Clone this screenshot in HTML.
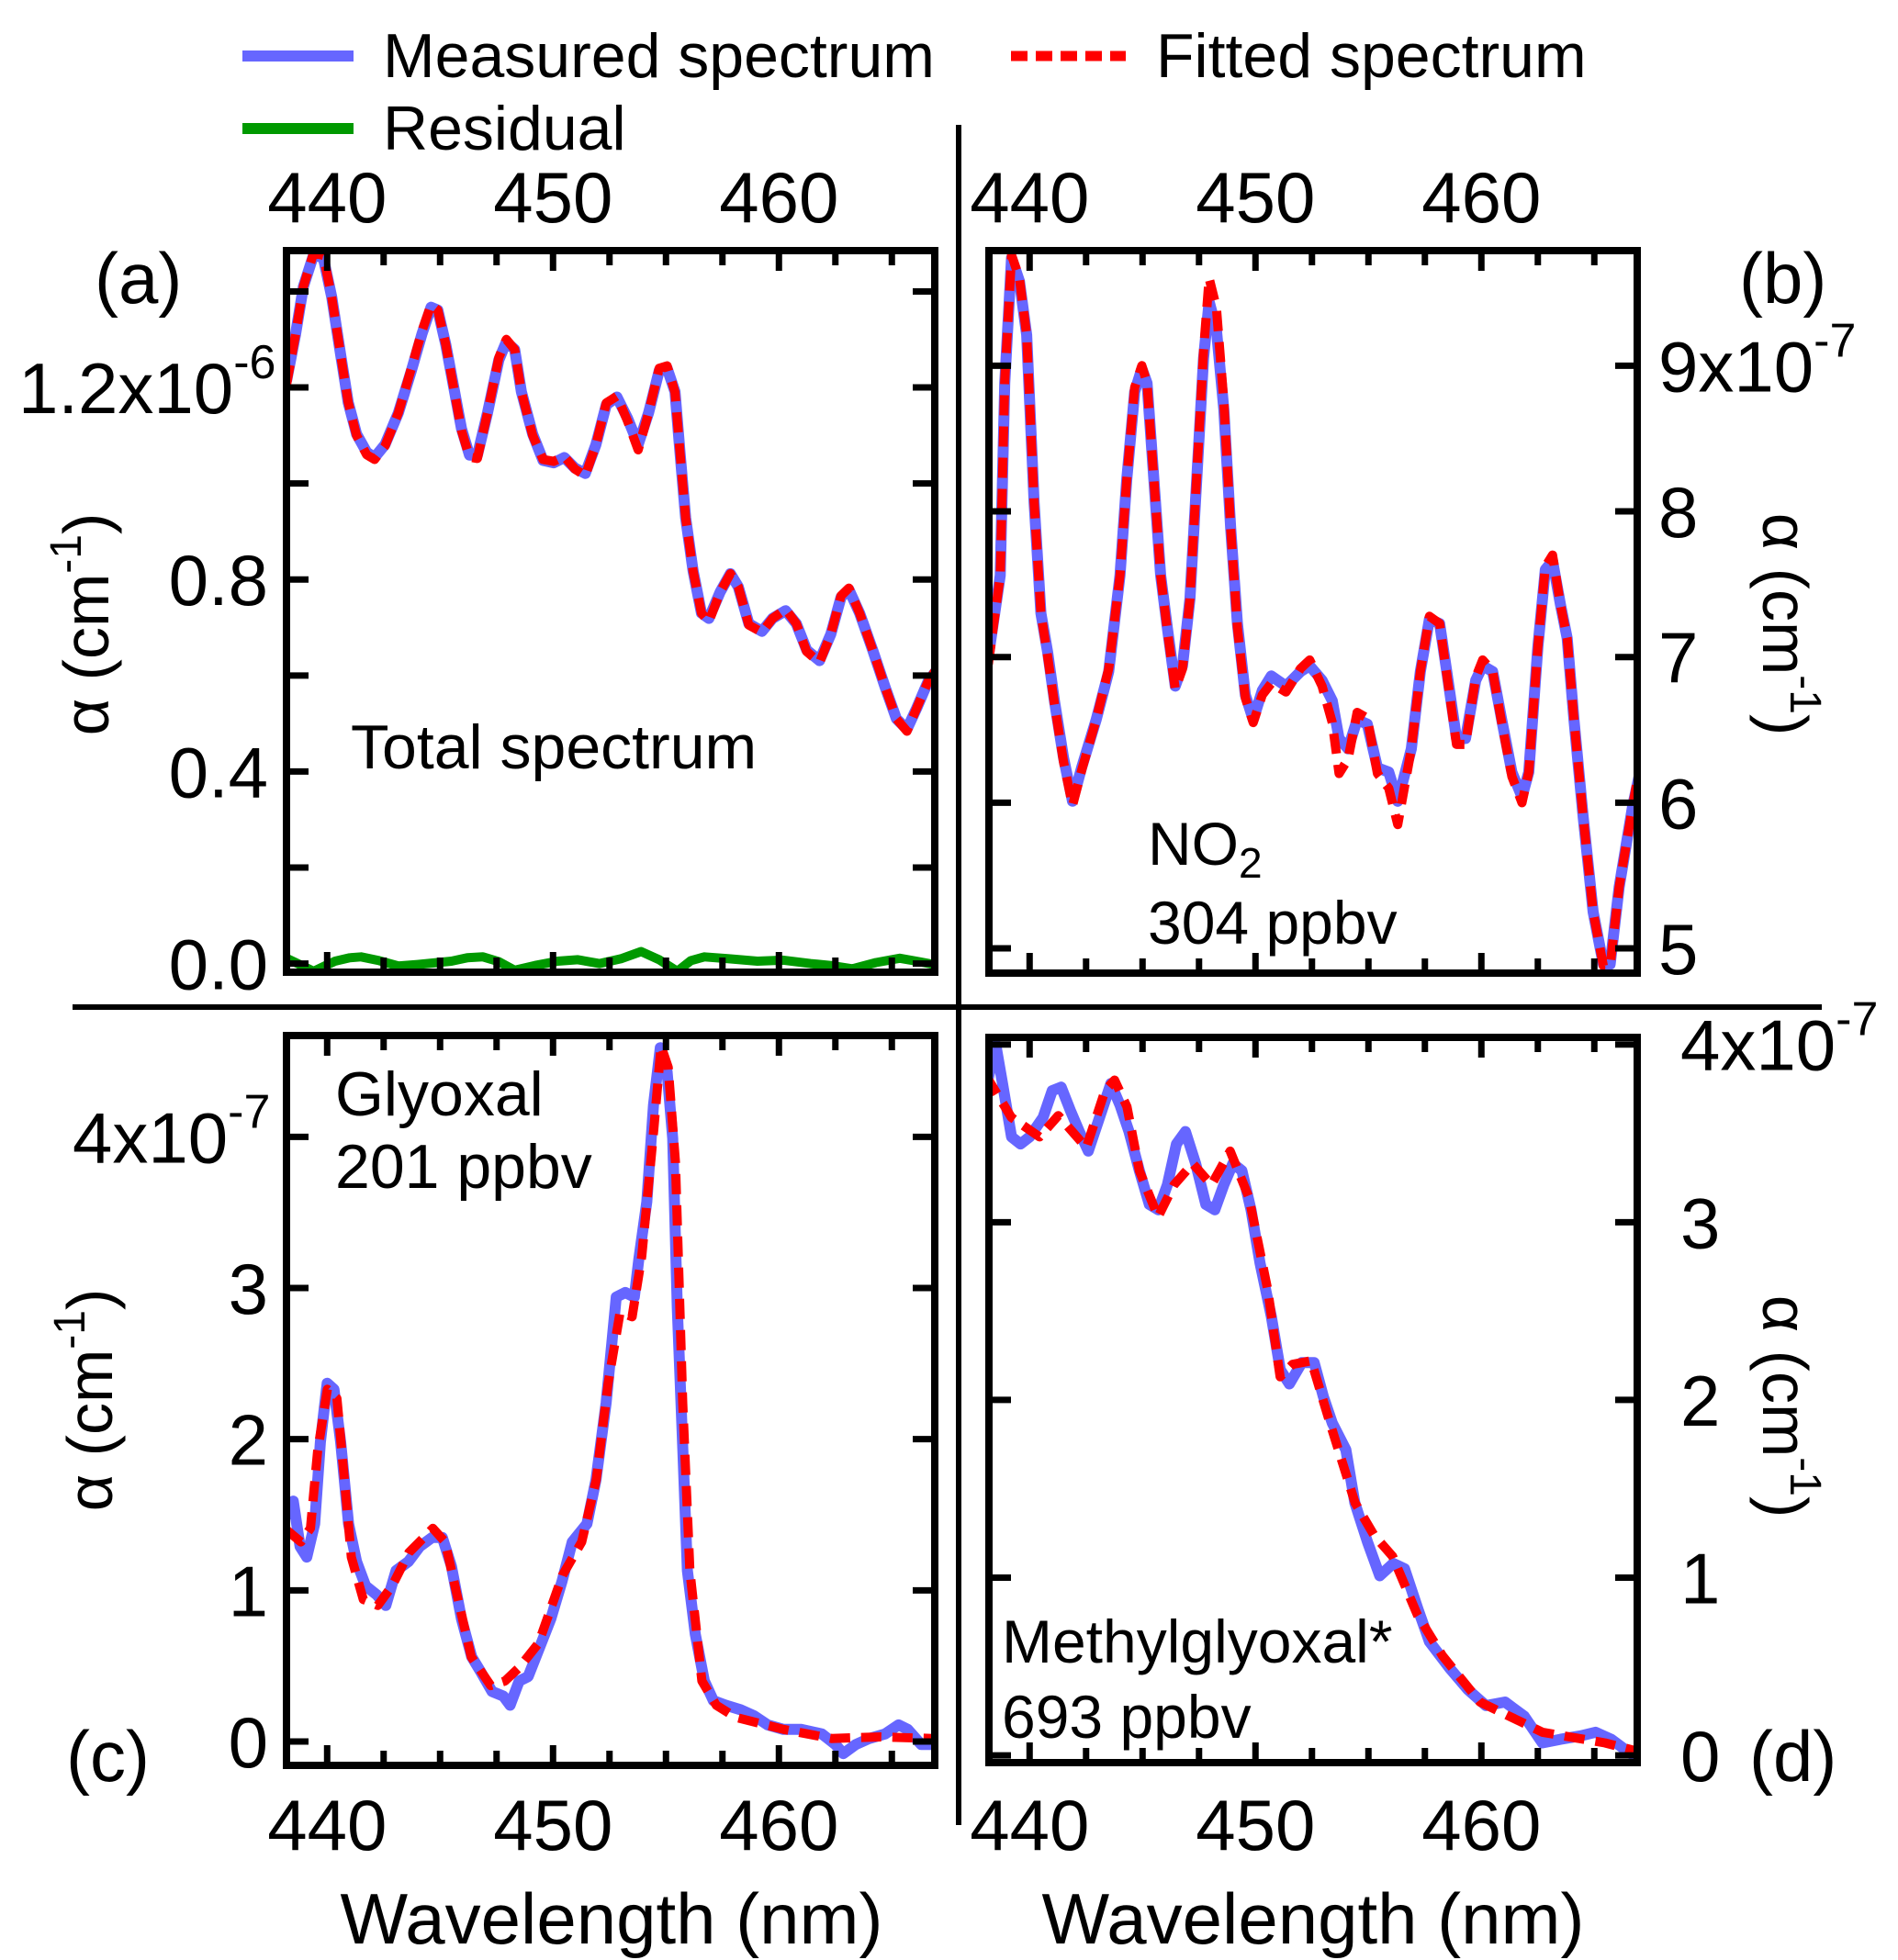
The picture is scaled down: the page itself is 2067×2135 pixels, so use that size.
<!DOCTYPE html>
<html><head><meta charset="utf-8"><style>
html,body{margin:0;padding:0;background:#fff}
svg{display:block}
text{font-family:"Liberation Sans",Arial,sans-serif;fill:#000}
</style></head><body>
<svg id="fig" xmlns="http://www.w3.org/2000/svg" width="2067" height="2135" viewBox="0 0 2067 2135">
<rect width="2067" height="2135" fill="#fff"/>
<g id="legend">
 <line x1="264" y1="61" x2="385" y2="61" stroke="#6666ff" stroke-width="12"/>
 <text x="417" y="84" font-size="68">Measured spectrum</text>
 <line x1="1101" y1="61" x2="1226" y2="61" stroke="#ff0000" stroke-width="11" stroke-dasharray="18,9"/>
 <text x="1259" y="84" font-size="68">Fitted spectrum</text>
 <line x1="264" y1="140" x2="385" y2="140" stroke="#009900" stroke-width="12"/>
 <text x="417" y="163" font-size="68">Residual</text>
</g>
<line x1="79" y1="1097" x2="1984" y2="1097" stroke="#000" stroke-width="6"/>
<line x1="1044" y1="136" x2="1044" y2="1988" stroke="#000" stroke-width="6"/>
<g id="plots"></g>
<g id="labels">
 <text x="103" y="330" font-size="78">(a)</text>
 <text x="1894" y="330" font-size="78">(b)</text>
 <text x="72" y="1940" font-size="78">(c)</text>
 <text x="1905" y="1940" font-size="78">(d)</text>
 <text x="382" y="837" font-size="68">Total spectrum</text>
 <text x="1250" y="942" font-size="66">NO<tspan font-size="46" dy="14">2</tspan></text>
 <text x="1250" y="1028" font-size="66">304 ppbv</text>
 <text x="365" y="1215" font-size="68">Glyoxal</text>
 <text x="365" y="1294" font-size="68">201 ppbv</text>
 <text x="1091" y="1811" font-size="66">Methylglyoxal*</text>
 <text x="1091" y="1893" font-size="66">693 ppbv</text>
 <text x="666" y="2117" font-size="78" text-anchor="middle">Wavelength (nm)</text>
 <text x="1430" y="2117" font-size="78" text-anchor="middle">Wavelength (nm)</text>
 <text transform="translate(118,680) rotate(-90)" font-size="70" text-anchor="middle">α (cm<tspan font-size="48" dy="-30">-1</tspan><tspan dy="30">)</tspan></text>
 <text transform="translate(122,1525) rotate(-90)" font-size="70" text-anchor="middle">α (cm<tspan font-size="48" dy="-30">-1</tspan><tspan dy="30">)</tspan></text>
 <text transform="translate(1920,680) rotate(90)" font-size="70" text-anchor="middle">α (cm<tspan font-size="48" dy="-30">-1</tspan><tspan dy="30">)</tspan></text>
 <text transform="translate(1920,1532) rotate(90)" font-size="70" text-anchor="middle">α (cm<tspan font-size="48" dy="-30">-1</tspan><tspan dy="30">)</tspan></text>
</g>
</svg>
<script>
// ---- data: wavelength (nm) and absorption values ----
const wlA = [438.2,438.6,438.95,439.4,439.83,440.2,440.6,440.93,441.3,441.75,442.1,442.56,443.15,443.73,444.2,444.6,444.9,445.25,445.6,445.95,446.3,446.65,447.1,447.6,447.93,448.3,448.6,449.1,449.56,450.03,450.5,450.97,451.43,451.9,452.36,452.83,453.3,453.77,454.23,454.7,455.05,455.4,455.63,455.87,456.2,456.57,456.9,457.4,457.85,458.2,458.67,459.25,459.72,460.3,460.77,461.23,461.8,462.3,462.75,463.1,463.57,464.15,464.7,465.2,465.67,466.1,466.6,466.95];
const measA = [1.213,1.31,1.41,1.476,1.47,1.389,1.268,1.169,1.103,1.065,1.054,1.081,1.147,1.235,1.312,1.367,1.361,1.29,1.202,1.114,1.059,1.059,1.147,1.257,1.295,1.279,1.191,1.103,1.048,1.043,1.054,1.032,1.021,1.081,1.164,1.18,1.136,1.081,1.147,1.235,1.24,1.191,1.059,0.928,0.818,0.73,0.719,0.774,0.812,0.785,0.708,0.692,0.719,0.735,0.708,0.653,0.631,0.686,0.763,0.779,0.73,0.653,0.576,0.51,0.488,0.532,0.587,0.609];
const fitA = [1.205,1.31,1.41,1.48,1.475,1.389,1.268,1.169,1.1,1.06,1.05,1.078,1.147,1.24,1.318,1.372,1.361,1.29,1.2,1.11,1.055,1.052,1.147,1.262,1.3,1.279,1.191,1.1,1.05,1.046,1.056,1.03,1.016,1.081,1.168,1.182,1.13,1.07,1.147,1.24,1.245,1.19,1.059,0.928,0.818,0.73,0.712,0.774,0.812,0.785,0.705,0.69,0.719,0.738,0.708,0.65,0.627,0.686,0.766,0.782,0.73,0.653,0.576,0.51,0.484,0.532,0.587,0.612];
const wlRes = [438.2,438.7,439.4,439.9,440.35,441.0,441.5,442.3,443.15,444.0,445.5,446.2,446.9,447.6,448.3,449.2,450.2,451.1,452.05,453.0,453.9,454.7,455.5,456.1,456.7,457.8,459.05,460.2,461.4,462.3,463.25,464.3,465.35,466.2,467];
const resA = [0.011,0.0,-0.016,-0.005,0.005,0.012,0.014,0.006,-0.005,-0.002,0.005,0.012,0.014,0.004,-0.014,-0.004,0.005,0.008,0,0.01,0.025,0.008,-0.016,0.006,0.014,0.01,0.005,0.007,0,-0.004,-0.011,0.002,0.011,0.004,-0.003];

const wlB = [438.17,438.7,438.9,439.2,439.55,439.87,440.2,440.5,440.8,441.1,441.5,441.9,442.3,442.95,443.5,444.0,444.3,444.65,444.97,445.2,445.5,445.8,446.1,446.45,446.77,447.1,447.4,447.7,447.95,448.27,448.6,448.9,449.2,449.55,449.9,450.3,450.7,451.35,451.99,452.4,452.95,453.4,453.7,454.1,454.5,454.95,455.4,455.9,456.3,456.9,457.3,457.7,458.15,458.47,458.9,459.3,459.75,460.06,460.5,460.9,461.35,461.8,462.1,462.5,462.83,463.15,463.5,463.8,464.1,464.5,464.95,465.4,465.7,466.1,466.7,466.98];
const measB = [7.0,7.56,8.88,9.74,9.58,9.21,8.06,7.3,7.03,6.7,6.31,6.01,6.24,6.57,6.9,7.56,8.22,8.82,8.98,8.88,8.22,7.56,7.2,6.8,6.94,7.4,8.22,9.05,9.44,9.25,8.7,7.89,7.23,6.74,6.57,6.77,6.87,6.8,6.9,6.94,6.84,6.7,6.44,6.37,6.57,6.54,6.24,6.21,6.01,6.37,6.9,7.26,7.23,6.9,6.44,6.44,6.84,6.94,6.9,6.57,6.21,6.04,6.21,7.07,7.6,7.66,7.36,7.13,6.57,5.91,5.25,4.89,4.89,5.42,5.98,6.18];
const fitB = [6.95,7.56,8.9,9.76,9.6,9.21,8.06,7.3,7.0,6.68,6.28,5.98,6.22,6.57,6.92,7.56,8.22,8.85,9.0,8.88,8.22,7.56,7.18,6.78,6.92,7.4,8.25,9.1,9.6,9.4,8.75,7.89,7.2,6.72,6.55,6.74,6.82,6.76,6.92,6.98,6.8,6.55,6.2,6.3,6.62,6.58,6.2,6.1,5.85,6.37,6.9,7.28,7.23,6.88,6.4,6.4,6.86,6.98,6.9,6.55,6.18,6.0,6.21,7.07,7.62,7.7,7.36,7.13,6.57,5.91,5.25,4.88,4.88,5.42,5.98,6.22];

const wlC = [438.2,438.5,438.8,439.1,439.45,439.7,440.0,440.3,440.6,440.95,441.3,441.7,442.2,442.6,443.05,443.6,444.1,444.65,445.1,445.5,445.95,446.4,446.8,447.3,447.8,448.1,448.5,448.9,449.4,449.9,450.4,450.85,451.5,451.9,452.35,452.8,453.2,453.6,453.8,454.15,454.45,454.75,455.05,455.3,455.5,455.75,455.95,456.3,456.7,457.1,457.65,458.3,458.9,459.5,460.2,461.0,461.9,462.5,462.85,463.4,464.0,464.7,465.3,465.7,466.3,466.8];
const measC = [1.48,1.59,1.29,1.22,1.44,1.98,2.37,2.33,1.98,1.44,1.19,1.03,0.97,0.9,1.13,1.19,1.29,1.35,1.35,1.16,0.81,0.56,0.46,0.33,0.3,0.24,0.4,0.43,0.62,0.81,1.06,1.32,1.44,1.73,2.24,2.94,2.97,2.94,3.19,3.57,4.21,4.59,4.43,3.99,2.87,1.92,1.13,0.71,0.4,0.27,0.24,0.21,0.17,0.11,0.08,0.08,0.05,-0.02,-0.08,-0.02,0.02,0.05,0.11,0.08,-0.02,-0.02];
const wlFitC = [438.2,438.84,439.26,439.58,440.01,440.43,440.75,441.07,441.6,442.24,442.88,443.62,444.68,445.22,445.75,446.38,447.24,447.87,448.51,449.36,450.42,451.27,451.91,452.44,452.97,453.5,453.93,454.46,454.78,455.1,455.42,455.74,456.06,456.59,457.23,458.08,460.21,462.33,464.46,466.79];
const fitC = [1.4,1.32,1.41,1.92,2.33,2.27,1.76,1.22,0.94,0.9,1.03,1.25,1.41,1.32,0.97,0.56,0.37,0.4,0.49,0.65,1.1,1.32,1.73,2.37,2.84,2.81,3.21,4.05,4.6,4.46,3.83,2.24,1.13,0.4,0.24,0.16,0.08,0.02,0.03,0.02];

const wlD = [438.17,438.5,438.8,439.2,439.6,440.0,440.6,441.0,441.4,441.8,442.2,442.6,443.1,443.6,444.0,444.4,444.86,445.3,445.7,446.1,446.5,446.9,447.35,447.8,448.2,448.6,449.0,449.4,449.8,450.2,450.7,451.1,451.5,452.05,452.6,453.0,453.4,454.0,454.4,454.96,455.5,456.1,456.6,457.2,457.7,458.6,459.4,460.2,461.05,461.9,462.7,463.5,464.4,465.05,465.75,466.6,466.9];
const measD = [3.81,4.0,3.78,3.48,3.44,3.48,3.59,3.74,3.76,3.63,3.51,3.4,3.59,3.78,3.66,3.51,3.29,3.1,3.07,3.21,3.44,3.51,3.33,3.1,3.07,3.21,3.33,3.29,3.07,2.77,2.47,2.17,2.09,2.21,2.21,2.02,1.87,1.72,1.42,1.2,1.01,1.08,1.05,0.82,0.64,0.49,0.37,0.28,0.3,0.22,0.07,0.09,0.11,0.13,0.09,0.01,0];
const wlFitD = [438.09,439.19,440.44,441.27,442.51,443.34,443.76,444.31,444.86,445.69,446.39,447.22,448.05,448.88,449.71,450.54,451.09,451.64,452.47,453.3,454.41,455.24,456.07,457.17,458.28,459.94,462.7,465.47,466.99];
const fitD = [3.82,3.59,3.48,3.6,3.42,3.74,3.8,3.65,3.29,3.03,3.21,3.33,3.21,3.4,3.14,2.62,2.13,2.2,2.22,1.87,1.42,1.24,1.12,0.79,0.56,0.3,0.13,0.07,0.02];

// ---- axis ticks ----
const xTickValues = [440,442.5,445,447.5,450,452.5,455,457.5,460,462.5,465];
const xTickLabels = ["440","450","460"];
const yTicksA = [0,0.2,0.4,0.6,0.8,1.0,1.2,1.4];
const yLabelsA = ["0.0","0.4","0.8"];
const yTicksB = [5,6,7,8,9];
const yLabelsB = ["5","6","7","8"];
const yTicksC = [0,1,2,3,4];
const yLabelsC = ["0","1","2","3"];
const yTicksD = [0,1,2,3,4];
const yLabelsD = ["1","2","3"];

const NS = "http://www.w3.org/2000/svg";
const root = document.getElementById('plots');
function mk(tag, attrs, parent){const e=document.createElementNS(NS,tag);for(const k in attrs)e.setAttribute(k,attrs[k]);(parent||root).appendChild(e);return e;}

function panel(id, box, xd, yd){
  const g = mk('g',{});
  
  
  const sx = v => box.L + (v - xd[0]) / (xd[1] - xd[0]) * (box.R - box.L);
  const sy = v => box.B - (v - yd[0]) / (yd[1] - yd[0]) * (box.B - box.T);
  const cp = mk('clipPath',{id:'clip-'+id}, g);
  mk('rect',{x:box.L,y:box.T,width:box.R-box.L,height:box.B-box.T}, cp);
  return {g, sx, sy, box, id};
}
function series(p, xs, ys, name, style){
  let d='';
  for(let i=0;i<xs.length;i++){ d += (i?'L':'M') + p.sx(xs[i]).toFixed(1) + ',' + p.sy(ys[i]).toFixed(1); }
  const e = mk('path', Object.assign({d, fill:'none', 'clip-path':'url(#clip-'+p.id+')', 'stroke-linejoin':'round'}, style), p.g);
  
  
}
function frame(p, yTicks){
  const b=p.box;
  const f = mk('rect',{x:b.L,y:b.T,width:b.R-b.L,height:b.B-b.T,fill:'none',stroke:'#000','stroke-width':8}, p.g);
  
  
  xTickValues.forEach(v=>{
    const x=p.sx(v); const len=(v%10===0)?22:16;
    const t1 = mk('line',{x1:x,y1:b.T,x2:x,y2:b.T+len,stroke:'#000','stroke-width':7}, p.g);
    
    
    const t2 = mk('line',{x1:x,y1:b.B,x2:x,y2:b.B-len,stroke:'#000','stroke-width':7}, p.g);
    
    
  });
  yTicks.forEach(v=>{
    const y=p.sy(v);
    const t1 = mk('line',{x1:b.L,y1:y,x2:b.L+24,y2:y,stroke:'#000','stroke-width':7}, p.g);
    
    
    const t2 = mk('line',{x1:b.R,y1:y,x2:b.R-24,y2:y,stroke:'#000','stroke-width':7}, p.g);
    
    
  });
}
function xLabels(p, y){
  [440,450,460].forEach((v,i)=>{
    const t = mk('text',{x:p.sx(v),y:y,'font-size':78,'text-anchor':'middle'}, p.g);
    t.textContent = xTickLabels[i];
    
    
  });
}
function yLabel(p, v, txt, x, anchor){
  const t = mk('text',{x:x,y:p.sy(v)+28,'font-size':78,'text-anchor':anchor}, p.g);
  t.textContent = txt;
  
  
  return t;
}
function sciLabel(p, v, mant, exp, x, anchor){
  const t = mk('text',{x:x,y:p.sy(v)+28,'font-size':78,'text-anchor':anchor}, p.g);
  
  
  const a = mk('tspan',{}, t); a.textContent = mant;
  const b = mk('tspan',{'font-size':52,dy:-38}, t); b.textContent = exp;
}

const xDom = [438.2, 466.9];
const blue = {stroke:'#6666ff','stroke-width':12};
const red = {stroke:'#ff0000','stroke-width':10,'stroke-dasharray':'22,12'};

// Panel (a)
const pA = panel('a',{L:312,R:1018,T:273,B:1059},xDom,[-0.018,1.485]);
series(pA, wlA, measA, 'measured-spectrum-a', blue);
series(pA, wlA, fitA, 'fitted-spectrum-a', red);
series(pA, wlRes, resA, 'residual-a', {stroke:'#009900','stroke-width':10});
frame(pA, yTicksA);
xLabels(pA, 242);
[0,0.4,0.8].forEach((v,i)=>yLabel(pA, v, yLabelsA[i], 292, 'end'));
sciLabel(pA, 1.2, '1.2x10', '-6', 20, 'start');

// Panel (b)
const pB = panel('b',{L:1077,R:1783,T:273,B:1060},xDom,[4.83,9.79]);
series(pB, wlB, measB, 'measured-spectrum-b', blue);
series(pB, wlB, fitB, 'fitted-spectrum-b', red);
frame(pB, yTicksB);
xLabels(pB, 242);
[5,6,7,8].forEach((v,i)=>yLabel(pB, v, yLabelsB[i], 1806, 'start'));
sciLabel(pB, 9, '9x10', '-7', 1806, 'start');

// Panel (c)
const pC = panel('c',{L:312,R:1018,T:1128,B:1923},xDom,[-0.158,4.67]);
series(pC, wlC, measC, 'measured-spectrum-c', blue);
series(pC, wlFitC, fitC, 'fitted-spectrum-c', red);
frame(pC, yTicksC);
xLabels(pC, 2015);
[0,1,2,3].forEach((v,i)=>yLabel(pC, v, yLabelsC[i], 292, 'end'));
sciLabel(pC, 4, '4x10', '-7', 79, 'start');

// Panel (d)
const pD = panel('d',{L:1077,R:1783,T:1130,B:1920},xDom,[-0.041,4.04]);
series(pD, wlD, measD, 'measured-spectrum-d', blue);
series(pD, wlFitD, fitD, 'fitted-spectrum-d', red);
frame(pD, yTicksD);
xLabels(pD, 2015);
[1,2,3].forEach((v,i)=>yLabel(pD, v, yLabelsD[i], 1830, 'start'));
yLabel(pD, 0, '0', 1830, 'start');
sciLabel(pD, 4, '4x10', '-7', 1830, 'start');
</script>
</body></html>
